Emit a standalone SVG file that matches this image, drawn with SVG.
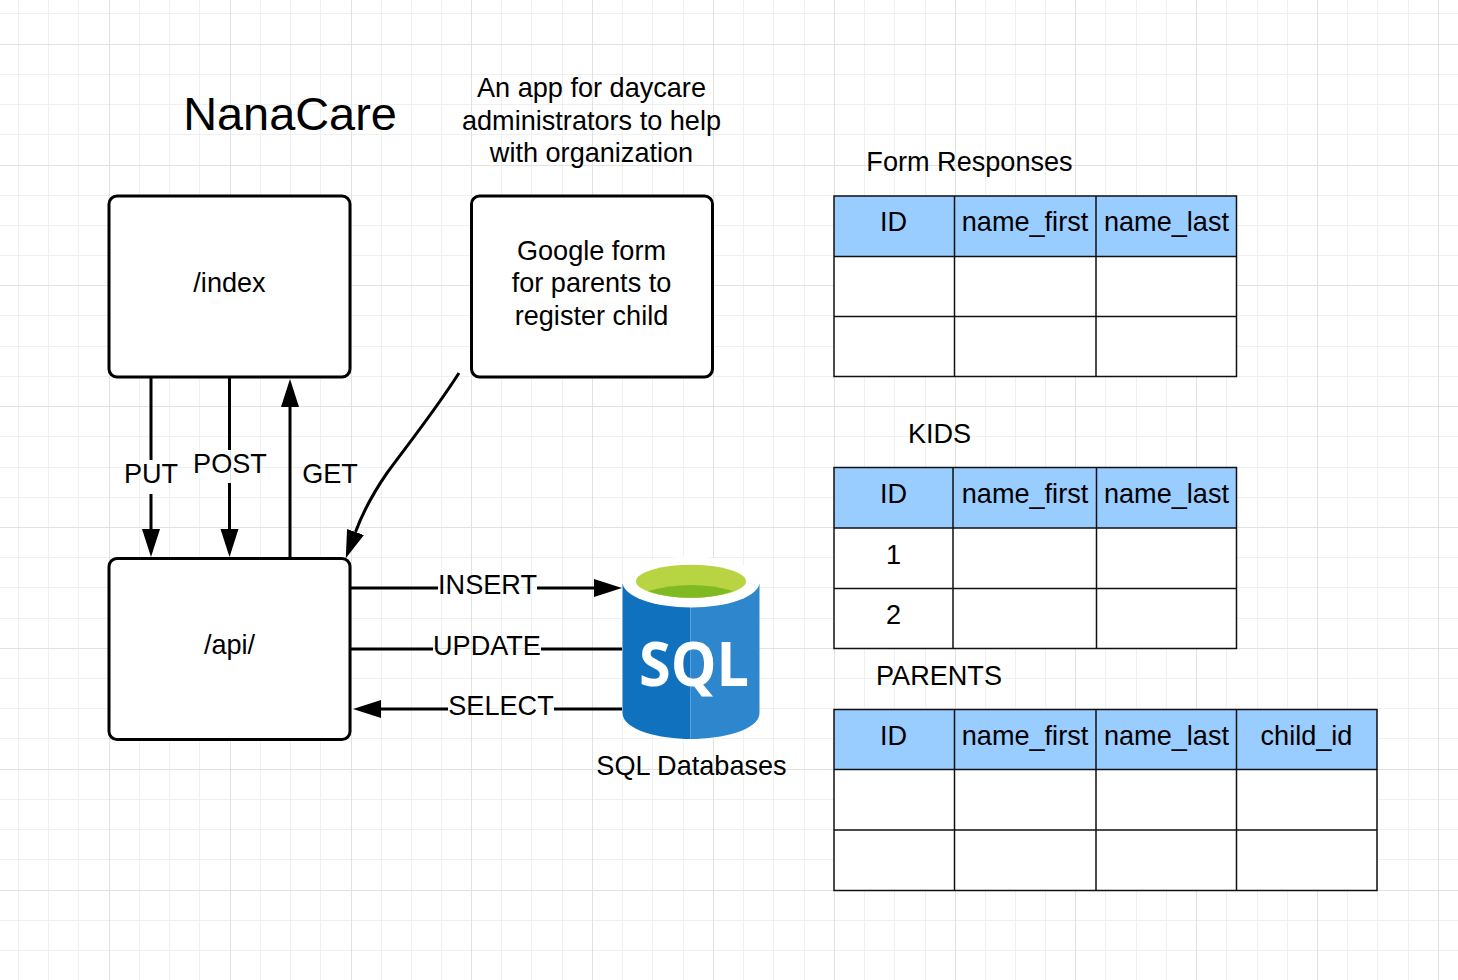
<svg xmlns="http://www.w3.org/2000/svg" width="1458" height="980" viewBox="0 0 1458 980">
<style>
text{font-family:"Liberation Sans",Arial,sans-serif;font-size:27.1px;fill:#000;text-anchor:middle}
.minor{stroke:#f0f0f0;stroke-width:1;fill:none}
.major{stroke:#e2e2e2;stroke-width:1;fill:none}
.box{fill:#fff;stroke:#000;stroke-width:3}
.conn{fill:none;stroke:#000;stroke-width:3}
.cell{fill:#fff}
.hdr{fill:#99ccff}
.rule{fill:none;stroke:#111;stroke-width:1.5}
</style>
<defs>
<marker id="head" markerUnits="userSpaceOnUse" markerWidth="30" markerHeight="22" viewBox="0 -11 30 22" refX="0" refY="0" orient="auto"><path d="M0,-9L28,0L0,9Z" fill="#000"/></marker>
</defs>
<rect width="1458" height="980" fill="#fff"/>
<g id="grid">
<path class="minor" d="M18.5 0V980M48.5 0V980M78.5 0V980M139.5 0V980M169.5 0V980M199.5 0V980M260.5 0V980M290.5 0V980M320.5 0V980M381.5 0V980M411.5 0V980M441.5 0V980M501.5 0V980M531.5 0V980M562.5 0V980M622.5 0V980M652.5 0V980M683.5 0V980M743.5 0V980M773.5 0V980M804.5 0V980M864.5 0V980M894.5 0V980M925.5 0V980M985.5 0V980M1015.5 0V980M1045.5 0V980M1105.5 0V980M1136.5 0V980M1166.5 0V980M1226.5 0V980M1257.5 0V980M1287.5 0V980M1347.5 0V980M1377.5 0V980M1408.5 0V980M0 13.5H1458M0 74.5H1458M0 104.5H1458M0 134.5H1458M0 195.5H1458M0 225.5H1458M0 255.5H1458M0 315.5H1458M0 346.5H1458M0 376.5H1458M0 436.5H1458M0 467.5H1458M0 497.5H1458M0 557.5H1458M0 587.5H1458M0 618.5H1458M0 678.5H1458M0 708.5H1458M0 738.5H1458M0 799.5H1458M0 829.5H1458M0 859.5H1458M0 920.5H1458M0 950.5H1458"/>
<path class="major" d="M109.5 0V980M230.5 0V980M351.5 0V980M471.5 0V980M592.5 0V980M713.5 0V980M834.5 0V980M955.5 0V980M1075.5 0V980M1196.5 0V980M1317.5 0V980M1438.5 0V980M0 44.5H1458M0 165.5H1458M0 285.5H1458M0 406.5H1458M0 527.5H1458M0 648.5H1458M0 769.5H1458M0 890.5H1458"/>
</g>
<g id="title"><text x="290" y="130" style="font-size:46.9px">NanaCare</text></g>
<g id="subtitle"><text x="591.5" y="97">An app for daycare</text><text x="591.5" y="130">administrators to help</text><text x="591.5" y="162">with organization</text></g>
<g id="connectors">
<path class="conn" d="M151 378V460M151 494V529" marker-end="url(#head)"/>
<path class="conn" d="M229.5 378V450M229.5 483V529" marker-end="url(#head)"/>
<path class="conn" d="M290 558V407" marker-end="url(#head)"/>
<path class="conn" d="M459 373C432 415 405 448 387 473C376 489 364 509 355.500 532" marker-end="url(#head)"/>
<path class="conn" d="M351 588H438M537 588H594" marker-end="url(#head)"/>
<path class="conn" d="M351 649H433M541 649H622"/>
<path class="conn" d="M622 709H554M448 709H381" marker-end="url(#head)"/>
<text x="151" y="483">PUT</text>
<text x="230" y="473">POST</text>
<text x="330" y="483">GET</text>
<text x="487.500" y="594">INSERT</text>
<text x="487" y="655">UPDATE</text>
<text x="501" y="715">SELECT</text>
</g>
<g id="index"><rect class="box" x="109" y="196" width="241" height="181" rx="8"/><text x="229.500" y="292">/index</text></g>
<g id="google-form"><rect class="box" x="471.500" y="196" width="241" height="181" rx="8"/><text x="591.500" y="260">Google form</text><text x="591.500" y="292">for parents to</text><text x="591.500" y="325">register child</text></g>
<g id="api"><rect class="box" x="109" y="558.500" width="241" height="181" rx="8"/><text x="229.500" y="654">/api/</text></g>
<g id="sql-databases">
<path d="M622.500 584H690.500V739C660 739 622.500 730 622.500 713Z" fill="#1071be"/>
<path d="M690.500 584H759.500V713C759.500 730 722 739 690.500 739Z" fill="#2e87cc"/>
<ellipse cx="691" cy="582" rx="68.500" ry="25.500" fill="#fff"/>
<ellipse cx="691" cy="581.300" rx="55" ry="16.500" fill="#b9d442"/>
<path d="M648 591C662 587 677 585 691 585C706 585 720 587 733 591C720 596 705 597.800 691 597.800C677 597.800 661 596 648 591Z" fill="#7fba22"/>
<text x="694" y="686" textLength="110" lengthAdjust="spacingAndGlyphs" style="font-family:'Open Sans','Noto Sans',sans-serif;font-weight:700;font-size:60px;fill:#fff">SQL</text>
<text x="691.500" y="775">SQL Databases</text>
</g>
<g id="form-responses">
<text x="969.500" y="171">Form Responses</text>
<rect class="cell" x="834" y="196" width="403" height="181"/><rect class="hdr" x="834" y="196" width="403" height="60.500"/>
<path class="rule" d="M834 196H1236.500V376.500H834ZM834 256.500H1236.500M834 316.500H1236.500M954.500 196V376.500M1096 196V376.500"/>
<text x="893.500" y="231">ID</text><text x="1025" y="231">name_first</text><text x="1166.500" y="231">name_last</text>
</g>
<g id="kids">
<text x="939.500" y="443">KIDS</text>
<rect class="cell" x="834" y="467.500" width="403" height="181.500"/><rect class="hdr" x="834" y="467.500" width="403" height="60.500"/>
<path class="rule" d="M834 467.500H1236.500V648.500H834ZM834 528H1236.500M834 588.500H1236.500M953 467.500V648.500M1096.500 467.500V648.500"/>
<text x="893.500" y="503">ID</text><text x="1025" y="503">name_first</text><text x="1166.500" y="503">name_last</text>
<text x="893.500" y="564">1</text><text x="893.500" y="624">2</text>
</g>
<g id="parents">
<text x="939" y="685">PARENTS</text>
<rect class="cell" x="834" y="709.500" width="543" height="181"/><rect class="hdr" x="834" y="709.500" width="543" height="60"/>
<path class="rule" d="M834 709.500H1377V890.500H834ZM834 769.500H1377M834 830H1377M954.500 709.500V890.500M1096 709.500V890.500M1236.500 709.500V890.500"/>
<text x="893.500" y="745">ID</text><text x="1025" y="745">name_first</text><text x="1166.500" y="745">name_last</text><text x="1306.500" y="745">child_id</text>
</g>
</svg>
